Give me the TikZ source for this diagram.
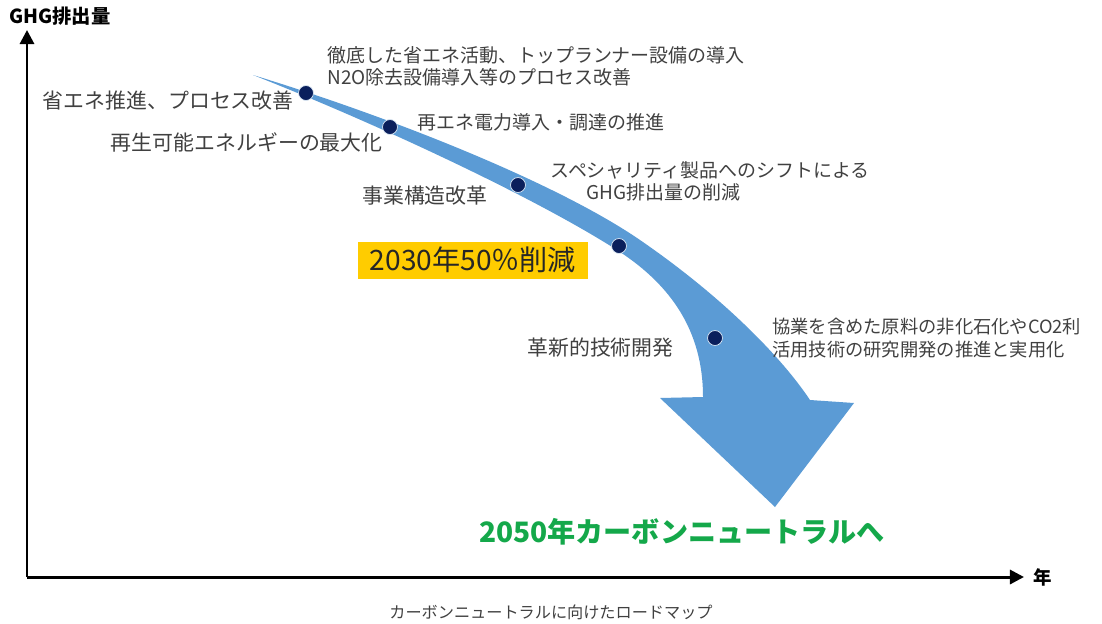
\documentclass[tikz,border=0pt]{standalone}
\usepackage{fontspec}
\setmainfont{Noto Sans CJK JP}
\usetikzlibrary{arrows.meta}
\definecolor{arrowblue}{HTML}{5B9BD5}
\definecolor{dotnavy}{HTML}{0A1F5C}
\definecolor{labelgray}{HTML}{404040}
\definecolor{goalgreen}{HTML}{14A84A}
\definecolor{targetyellow}{HTML}{FFCC00}
\tikzset{
  axis/.style={line width=1.7pt, -{Triangle[length=8pt, width=8pt]}},
  dot/.style={circle, fill=dotnavy, draw=white!80!arrowblue, line width=0.4pt, inner sep=0pt, minimum size=8.5pt},
  lbl/.style={text=labelgray, font=\fontsize{11.9}{14}\selectfont, inner sep=0pt},
  slbl/.style={text=labelgray, font=\fontsize{10.8}{12.5}\selectfont, inner sep=0pt, align=left},
}
\begin{document}
\begin{tikzpicture}[x=0.02cm, y=-0.02cm]
  \useasboundingbox (0,0) rectangle (1102,623);

  % 軸
  \coordinate (O) at (27,577);
  \coordinate (ytop) at (27,30);
  \coordinate (xend) at (1024,577);
  \draw[axis] (O) -- (ytop);
  \draw[axis] (O) -- (xend);
  \node[font=\bfseries\fontsize{11}{13}\selectfont, anchor=west, inner sep=0pt] (ylab) at (9,16) {GHG排出量};
  \node[font=\bfseries\fontsize{10.5}{12}\selectfont, inner sep=0pt] (xlab) at (1043,577) {年};

  % 曲がった矢印
  \fill[arrowblue] (253,75) .. controls (400,120) and (560,185) .. (640,240)
    .. controls (720,295) and (780,355) .. (810,400)
    -- (854,403) -- (775,507) -- (660,398) -- (703,397)
    .. controls (703,330) and (670,285) .. (620,252)
    .. controls (540,200) and (380,125) .. (253,75) -- cycle;

  % 点
  \node[dot] (d1) at (306,93) {};
  \node[dot] (d2) at (390,127) {};
  \node[dot] (d3) at (518,185) {};
  \node[dot] (d4) at (619,246) {};
  \node[dot] (d5) at (715,338) {};

  % 説明
  \node[lbl, anchor=east] (l1) at (294,101) {省エネ推進、プロセス改善};
  \node[lbl, anchor=east] (l2) at (383,142) {再生可能エネルギーの最大化};
  \node[slbl, anchor=west] (l3) at (327,66) {徹底した省エネ活動、トップランナー設備の導入\\N2O除去設備導入等のプロセス改善};
  \node[slbl, anchor=west] (l4) at (417,122) {再エネ電力導入・調達の推進};
  \node[slbl, anchor=west] (l5) at (550,181) {スペシャリティ製品へのシフトによる\\\hspace*{0.72cm}GHG排出量の削減};
  \node[lbl, anchor=east] (l6) at (488,196) {事業構造改革};
  \node[lbl, anchor=east] (l7) at (674,348) {革新的技術開発};
  \node[slbl, anchor=west, font=\fontsize{10.4}{13}\selectfont] (l8) at (772,338) {協業を含めた原料の非化石化やCO2利\\活用技術の研究開発の推進と実用化};

  % 目標
  \node[fill=targetyellow, text=black!85, font=\fontsize{16}{18}\selectfont, minimum width=4.6cm, minimum height=0.74cm, inner sep=0pt] (t2030) at (473,260) {2030年50％削減};
  \node[text=goalgreen, font=\bfseries\fontsize{16}{18}\selectfont, inner sep=0pt] (t2050) at (682,532) {2050年カーボンニュートラルへ};

  % キャプション
  \node[text=labelgray, font=\fontsize{9.2}{11}\selectfont, inner sep=0pt] (cap) at (551,612) {カーボンニュートラルに向けたロードマップ};
\end{tikzpicture}
\end{document}
